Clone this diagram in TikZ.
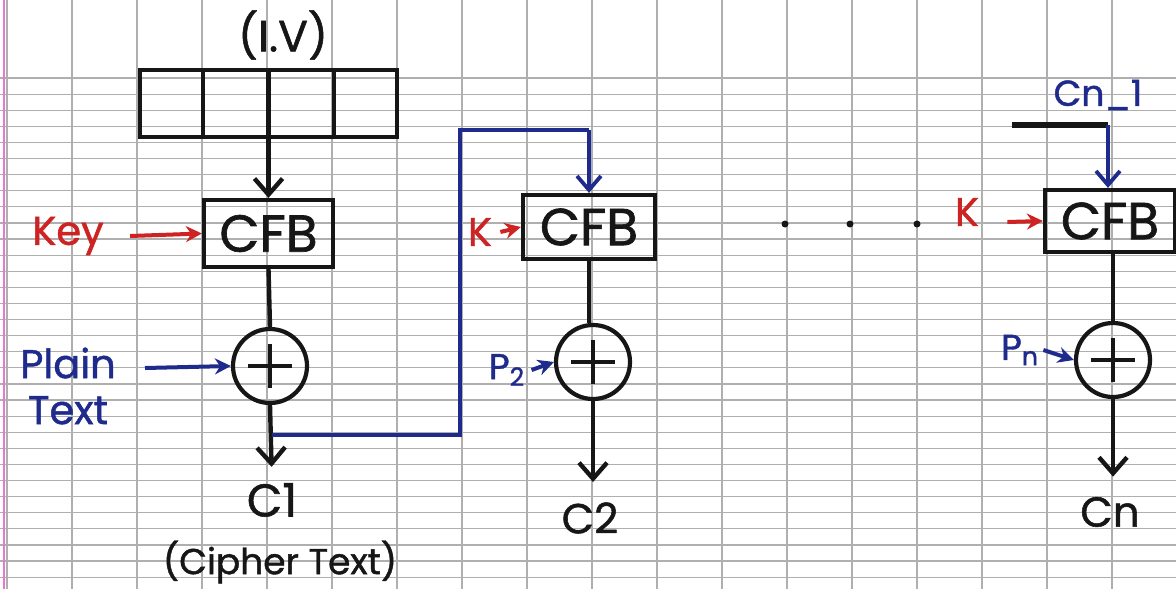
\documentclass[tikz,border=0pt]{standalone}
\usepackage{fontspec}
\setmainfont{Poppins}[FakeBold=1.2]
\usetikzlibrary{arrows.meta,calc}
\definecolor{ink}{RGB}{22,22,22}
\definecolor{inkred}{RGB}{205,35,35}
\definecolor{inkblue}{RGB}{30,42,140}
\definecolor{gridc}{RGB}{175,175,175}
\definecolor{marginc}{RGB}{232,120,205}
\newcommand{\fsz}[1]{\fontsize{#1}{#1}\selectfont}
\begin{document}
\begin{tikzpicture}[x=0.5pt,y=-0.5pt,
  gridline/.style={draw=gridc,line width=0.6pt},
  blkline/.style={draw=ink,line width=2.2pt},
  blkarrow/.style={draw=ink,line width=2.2pt,-{Straight Barb[length=8pt,width=14pt]}},
  redarrow/.style={draw=inkred,line width=2pt,-{Stealth[length=8pt,width=8pt]}},
  bluearrow/.style={draw=inkblue,line width=2pt,-{Stealth[length=8pt,width=8pt]}},
  blueline/.style={draw=inkblue,line width=1.8pt},
  bluebarb/.style={draw=inkblue,line width=1.9pt,-{Straight Barb[length=7pt,width=12pt]}},
  cfbbox/.style={draw=ink,line width=2.1pt,inner sep=0pt,text=ink,font=\fsz{26}},
  xorc/.style={circle,draw=ink,line width=2.1pt,minimum size=37pt,inner sep=0pt,
    path picture={\draw[ink,line width=2.1pt]
      ($(path picture bounding box.center)+(-11pt,0pt)$) -- ($(path picture bounding box.center)+(11pt,0pt)$)
      ($(path picture bounding box.center)+(0pt,-11pt)$) -- ($(path picture bounding box.center)+(0pt,11pt)$);}},
  blktext/.style={text=ink,inner sep=0pt},
  redtext/.style={text=inkred,inner sep=0pt,font=\fsz{20}},
  bluetext/.style={text=inkblue,inner sep=0pt},
  dotn/.style={circle,fill=ink,inner sep=0pt,minimum size=3.5pt}]
\useasboundingbox (0,0) rectangle (1176,589);
\fill[white] (0,0) rectangle (1176,589);
% graph paper
\foreach \k in {0,...,18} {\draw[gridline] ({7+65*\k},0) -- ({7+65*\k},589);}
\foreach \k in {0,...,31} {\draw[gridline] (0,{78+16.1*\k}) -- (1176,{78+16.1*\k});}
\draw[marginc,line width=1pt] (4,0) -- (4,589);

% ---- block 1 ----
\node[blktext,font=\fsz{22}] (ivlabel) at (283,35) {(I.V)};
\node[draw=ink,line width=2.1pt,minimum width=128.5pt,minimum height=33.5pt,inner sep=0pt] (iv) at (268.5,103.5) {};
\foreach \f in {0.25,0.5,0.75} {\draw[blkline,line width=2.1pt] ($(iv.north west)!\f!(iv.north east)$) -- ($(iv.south west)!\f!(iv.south east)$);}
\node[cfbbox,minimum width=64.5pt,minimum height=33.5pt] (cfb1) at (268.5,233.5) {CFB};
\node[redtext] (key) at (68,236) {Key};
\node[xorc] (xor1) at (270,366) {};
\node[bluetext,font=\fsz{20},align=center] (pt) at (68,386) {Plain\\[3pt]Text};
\coordinate (ptout) at (145,368);
\node[blktext,font=\fsz{23}] (c1) at (272,500) {C1};
\node[blktext,font=\fsz{18}] (ct) at (280,562) {(Cipher Text)};

\draw[blkarrow] (iv.south) -- (cfb1.north);
\draw[redarrow] ([xshift=13pt]key.east) -- (cfb1.west);
\draw[blkline] (cfb1.south) -- (xor1.north);
\draw[bluearrow] (ptout) -- (xor1.west);
\draw[blkarrow,shorten >=8pt] (xor1.south) -- (c1.north);

% feedback
\coordinate (fb0) at (272,435);
\coordinate (fb1) at (460,435);
\coordinate (fb2) at (460,130);

% ---- block 2 ----
\node[cfbbox,minimum width=66pt,minimum height=32pt] (cfb2) at (589,227) {CFB};
\node[redtext] (k2) at (480,232) {K};
\node[xorc] (xor2) at (593,362) {};
\node[bluetext,font=\fsz{18}] (p2) at (507,370) {P\textsubscript{2}};
\node[blktext,font=\fsz{21}] (c2) at (590,518) {C2};

\draw[blueline] (fb0) -- (fb1) -- (fb2) -- (fb2 -| cfb2.north);
\draw[bluebarb] (fb2 -| cfb2.north) -- (cfb2.north);
\draw[redarrow] ([xshift=4pt]k2.east) -- (cfb2.west);
\draw[blkline] (cfb2.south) -- (cfb2.south |- xor2.north);
\draw[bluearrow] ([xshift=3pt]p2.east) -- (xor2.west);
\draw[blkarrow,shorten >=10pt] (xor2.south) -- (xor2.south |- c2.north);

% ---- dots ----
\node[dotn] (d1) at (785,224) {};
\node[dotn] (d2) at (850,224) {};
\node[dotn] (d3) at (917,224) {};

% ---- block n ----
\node[cfbbox,minimum width=65pt,minimum height=31pt] (cfb3) at (1110,221) {CFB};
\node[redtext] (k3) at (967,212) {K};
\node[xorc] (xor3) at (1113,360) {};
\node[bluetext,font=\fsz{18}] (pn) at (1020,350) {P\textsubscript{n}};
\node[blktext,font=\fsz{21}] (cn) at (1110,512) {Cn};
\node[bluetext,font=\fsz{18}] (cnm) at (1098,95) {Cn\_1};
\coordinate (cnl) at (1012,125);
\coordinate (cnr) at (1108,125);

\draw[draw=ink,line width=2.6pt] (cnl) -- (cnr);
\draw[bluebarb] (cnr) -- (cnr |- cfb3.north);
\draw[redarrow] ([xshift=14pt,yshift=-5pt]k3.east) -- (cfb3.west);
\draw[blkline] (cfb3.south -| xor3.north) -- (xor3.north);
\draw[bluearrow] ([xshift=2pt]pn.east) -- (xor3.west);
\draw[blkarrow,shorten >=10pt] (xor3.south) -- (xor3.south |- cn.north);
\end{tikzpicture}
\end{document}
